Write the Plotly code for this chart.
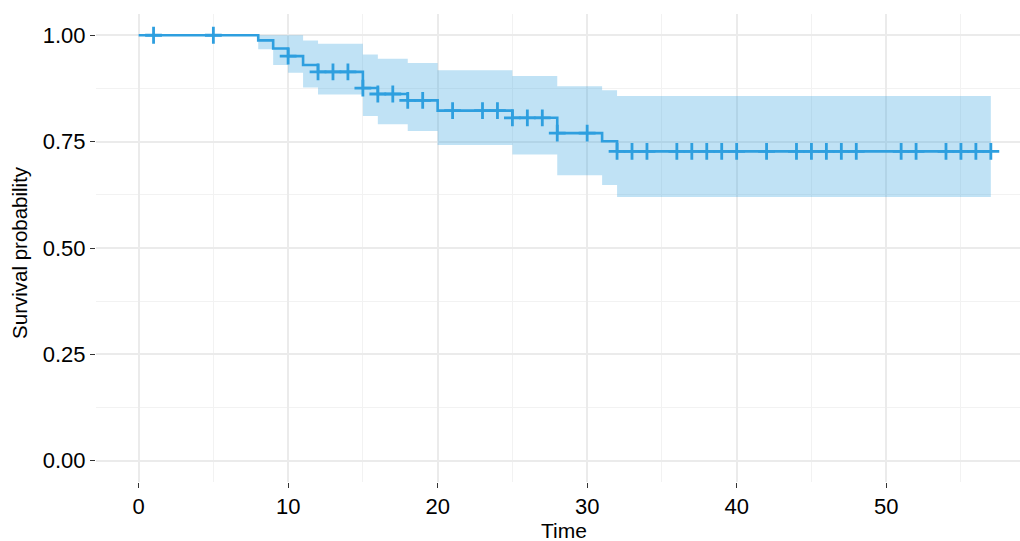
import plotly.graph_objects as go

# Kaplan-Meier step curve (time of step, survival after step)
step_time = [0, 8, 9, 10, 11, 12, 15, 16, 18, 20, 25, 28, 31, 32, 57]
step_surv = [1.0, 0.988, 0.969, 0.951, 0.930, 0.914, 0.876, 0.862, 0.847, 0.823, 0.806, 0.770, 0.751, 0.727, 0.727]

# Confidence band (starts at first event)
ci_time = [8, 9, 10, 11, 12, 15, 16, 18, 20, 25, 28, 31, 32, 57]
ci_upper = [1.0, 1.0, 1.0, 0.988, 0.980, 0.955, 0.945, 0.935, 0.918, 0.904, 0.880, 0.871, 0.857, 0.857]
ci_lower = [0.967, 0.930, 0.912, 0.877, 0.861, 0.810, 0.791, 0.775, 0.742, 0.720, 0.671, 0.648, 0.620, 0.620]

# Censoring marks
cens_time = [1, 5, 10, 12, 13, 14, 15, 16, 17, 18, 19, 21, 23, 24, 25, 26, 27, 28, 30,
             32, 33, 34, 36, 37, 38, 39, 40, 42, 44, 45, 46, 47, 48, 51, 52, 54, 55, 56, 57]
cens_surv = [1.0, 1.0, 0.951, 0.914, 0.914, 0.914, 0.876, 0.862, 0.862, 0.847, 0.847,
             0.823, 0.823, 0.823, 0.806, 0.806, 0.806, 0.770, 0.770] + [0.727] * 20

y_ticks = [0, 0.25, 0.5, 0.75, 1.0]
y_labels = ["0.00", "0.25", "0.50", "0.75", "1.00"]
x_ticks = [0, 10, 20, 30, 40, 50]

COLOR = "#2E9FDF"
BAND = "rgba(46,159,223,0.30)"

fig = go.Figure()
fig.add_trace(go.Scatter(x=ci_time, y=ci_lower, mode="lines", line=dict(shape="hv", width=0),
                         hoverinfo="skip", showlegend=False))
fig.add_trace(go.Scatter(x=ci_time, y=ci_upper, mode="lines", line=dict(shape="hv", width=0),
                         fill="tonexty", fillcolor=BAND, hoverinfo="skip", showlegend=False))
fig.add_trace(go.Scatter(x=step_time, y=step_surv, mode="lines",
                         line=dict(shape="hv", width=2.6, color=COLOR), showlegend=False))
fig.add_trace(go.Scatter(x=cens_time, y=cens_surv, mode="markers",
                         marker=dict(symbol="cross-thin", size=12, line=dict(width=2.8, color=COLOR), color=COLOR),
                         showlegend=False))

fig.update_layout(
    width=1020, height=541,
    margin=dict(l=96, r=0, t=14, b=59, autoexpand=False),
    paper_bgcolor="white", plot_bgcolor="white",
    font=dict(family="Liberation Sans, Arial, sans-serif", color="black"),
    xaxis=dict(range=[-2.85, 58.95], tickvals=x_ticks, ticks="outside", ticklen=5, tickwidth=1.2,
               tickcolor="#333333", showgrid=True, gridcolor="#EBEBEB", gridwidth=1.5, automargin=False,
               zeroline=False, showline=False, tickfont=dict(size=22, color="black"),
               minor=dict(dtick=5, tick0=0, showgrid=True, gridcolor="#F2F2F2", gridwidth=1)),
    yaxis=dict(range=[-0.05, 1.05], tickvals=y_ticks, ticktext=y_labels, ticks="outside", ticklen=5,
               tickwidth=1.2, tickcolor="#333333", showgrid=True, gridcolor="#EBEBEB", gridwidth=1.5,
               automargin=False, zeroline=False, showline=False, tickfont=dict(size=22, color="black"),
               minor=dict(dtick=0.125, tick0=0, showgrid=True, gridcolor="#F2F2F2", gridwidth=1)),
    annotations=[
        dict(text="Time", xref="paper", yref="paper", x=0.5065, y=-0.1047, showarrow=False,
             xanchor="center", yanchor="middle", font=dict(size=21, color="black")),
        dict(text="Survival probability", xref="paper", yref="paper", x=-0.0823, y=0.4915,
             showarrow=False, textangle=-90, xanchor="center", yanchor="middle",
             font=dict(size=20.5, color="black")),
    ],
)

fig.write_html("out.html", config={"displayModeBar": False},
               post_script="document.body.style.margin='0';")
